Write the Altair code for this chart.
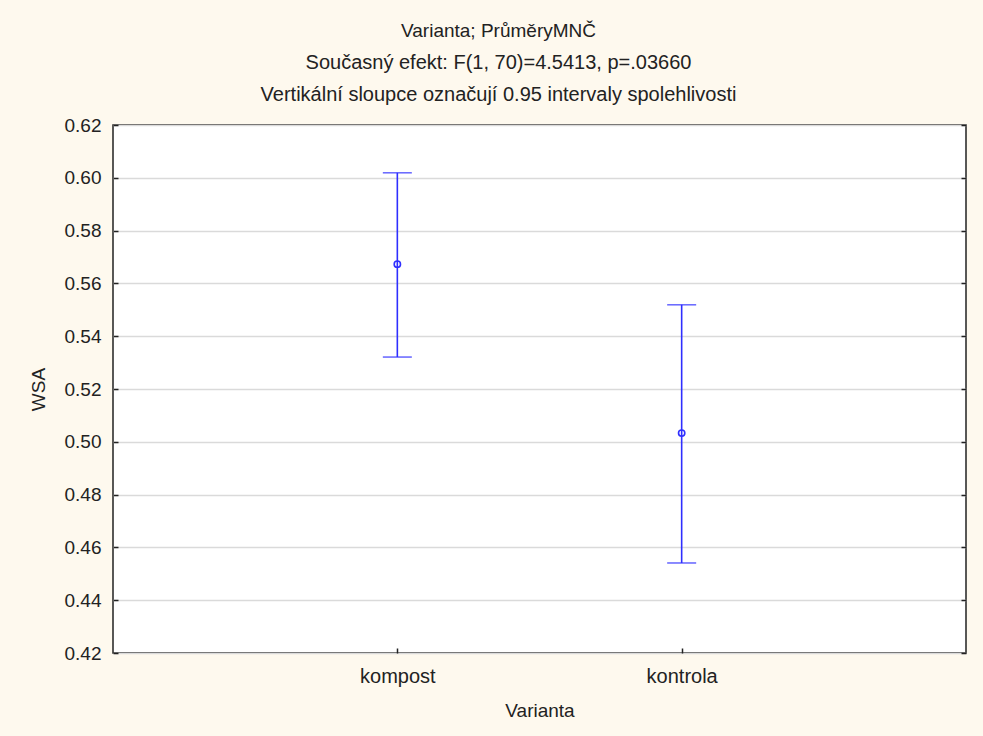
import altair as alt
import pandas as pd

# Group means of WSA with 0.95 confidence limits
categories = ["kompost", "kontrola"]
means = [0.5673, 0.5033]
lower = [0.5321, 0.4541]
upper = [0.6019, 0.5519]

y_ticks = [0.42, 0.44, 0.46, 0.48, 0.50, 0.52, 0.54, 0.56, 0.58, 0.60, 0.62]

df = pd.DataFrame({"Varianta": categories, "mean": means, "lo": lower, "hi": upper})

FONT = "Liberation Sans"
BLUE = "#2f2fff"

x_enc = alt.X(
    "Varianta:N",
    scale=alt.Scale(type="point", domain=categories, padding=1),
    axis=alt.Axis(
        title="Varianta",
        labelAngle=0,
        offset=-5,
        tickSize=5,
        domain=False,
        labelPadding=13,
        titlePadding=15,
        labelFontSize=20,
    ),
)
y_scale = alt.Scale(domain=[0.42, 0.62], nice=False, zero=False)
y_axis = alt.Axis(
    title="WSA",
    values=y_ticks,
    format=".2f",
    offset=-5,
    tickSize=5,
    domain=False,
    labelPadding=12,
    titlePadding=16,
)

base = alt.Chart(df)

whisker = base.mark_rule(color=BLUE, strokeWidth=1.6).encode(
    x=x_enc,
    y=alt.Y("lo:Q", scale=y_scale, axis=y_axis),
    y2="hi:Q",
)
cap_hi = base.mark_tick(color=BLUE, size=29, thickness=1.6).encode(
    x=x_enc, y=alt.Y("hi:Q", scale=y_scale)
)
cap_lo = base.mark_tick(color=BLUE, size=29, thickness=1.6).encode(
    x=x_enc, y=alt.Y("lo:Q", scale=y_scale)
)
dots = base.mark_point(
    shape="circle", filled=False, color=BLUE, size=40, strokeWidth=1.6, opacity=1
).encode(x=x_enc, y=alt.Y("mean:Q", scale=y_scale))

# mirrored tick marks on the right edge of the frame
right_axis = base.mark_point(opacity=0).encode(
    y=alt.Y(
        "mean:Q",
        scale=y_scale,
        axis=alt.Axis(
            orient="right",
            values=y_ticks,
            labels=False,
            title=None,
            offset=-5,
            tickSize=5,
            domain=False,
            grid=False,
        ),
    )
)

left = alt.layer(whisker, cap_hi, cap_lo, dots)

chart = (
    alt.layer(left, right_axis)
    .resolve_axis(y="independent")
    .properties(
        width=853,
        height=528,
        autosize=alt.AutoSizeParams(type="none"),
        padding={"left": 113, "top": 125, "right": 17, "bottom": 83},
        background="#fef9ee",
        title=alt.TitleParams(
            text="Varianta; PrůměryMNČ",
            subtitle=[
                "Současný efekt: F(1, 70)=4.5413, p=.03660",
                "Vertikální sloupce označují 0.95 intervaly spolehlivosti",
            ],
            anchor="middle",
            dx=-41,
            offset=11,
        ),
    )
    .configure_view(stroke="#222222", strokeWidth=1.5, fill="#ffffff")
    .configure_axis(
        labelFont=FONT,
        titleFont=FONT,
        labelFontSize=19,
        titleFontSize=19,
        labelColor="#222222",
        titleColor="#222222",
        titleFontWeight="normal",
        tickColor="#222222",
        tickWidth=1.5,
        gridColor="#dadada",
        gridWidth=1.5,
    )
    .configure_title(
        font=FONT,
        fontSize=19,
        fontWeight="normal",
        color="#222222",
        subtitleFont=FONT,
        subtitleFontSize=20,
        subtitleColor="#222222",
        subtitleLineHeight=32,
        subtitlePadding=12,
    )
)

chart.save("out.html", embed_options={"renderer": "svg", "actions": False})
